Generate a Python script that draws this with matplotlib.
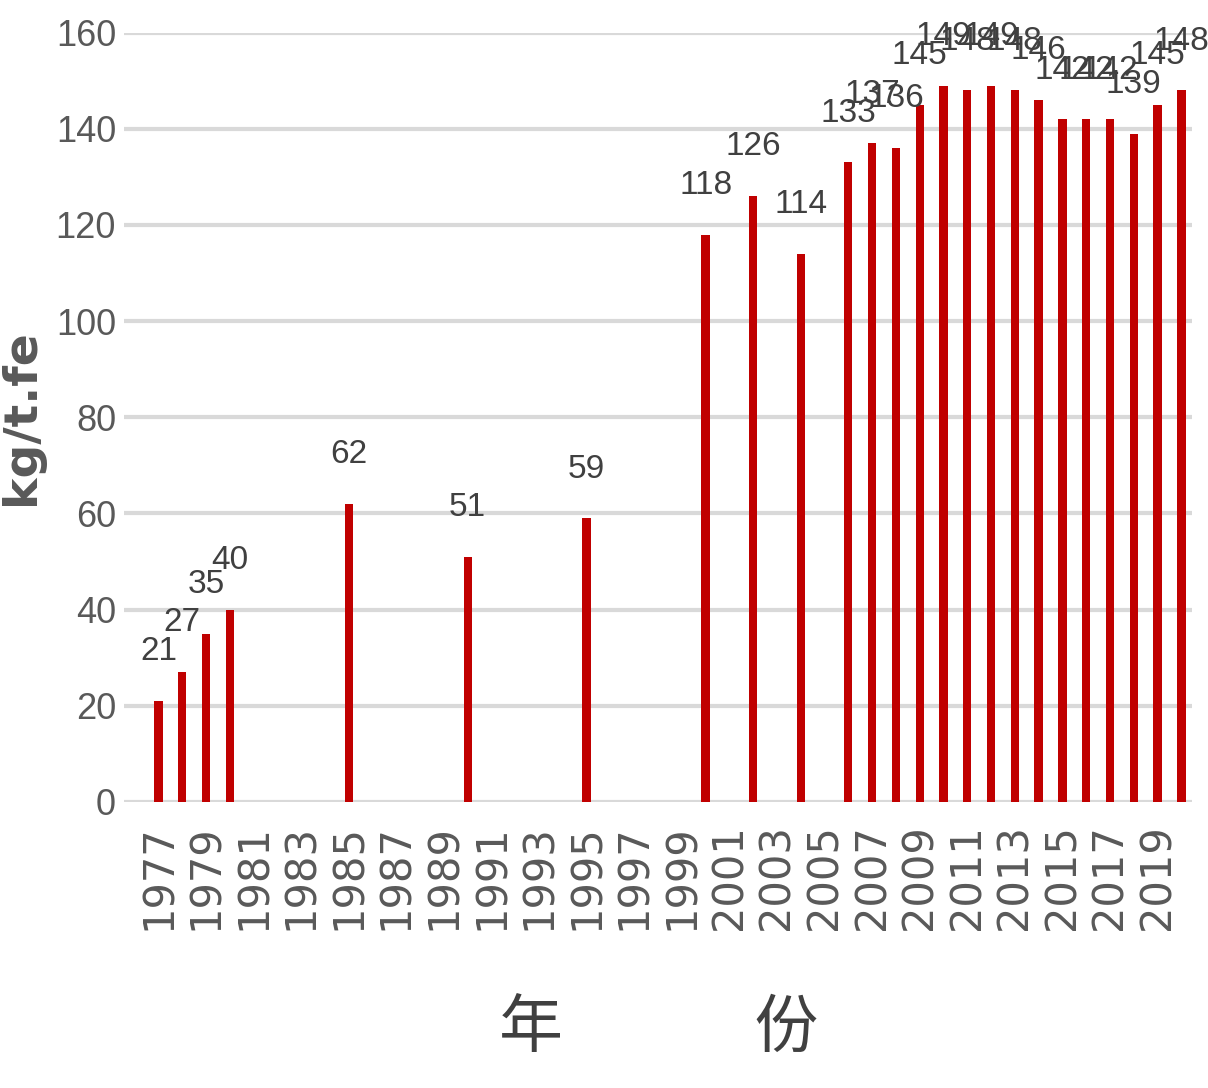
import matplotlib
matplotlib.use('Agg')
import matplotlib.pyplot as plt
import numpy as np

years = list(range(1977, 2021))
data_years = [1977, 1978, 1979, 1980, 1985, 1990, 1995, 2000, 2002, 2004,
              2006, 2007, 2008, 2009, 2010, 2011, 2012, 2013, 2014, 2015,
              2016, 2017, 2018, 2019, 2020]
values = [21, 27, 35, 40, 62, 51, 59, 118, 126, 114,
          133, 137, 136, 145, 149, 148, 149, 148, 146, 142,
          142, 142, 139, 145, 148]
yticks = [0, 20, 40, 60, 80, 100, 120, 140, 160]

plt.rcParams['font.family'] = ['Liberation Sans', 'DejaVu Sans']

fig = plt.figure(figsize=(12.08, 10.88), dpi=100)
ax = fig.add_axes([0.103, 0.263, 0.884, 0.707])

xpos = [years.index(y) for y in data_years]
ax.bar(xpos, values, width=0.35, color='#C00000', zorder=3)

for x, v in zip(xpos, values):
    ax.text(x, v + 7, str(v), ha='center', va='bottom', fontsize=24,
            color='#404040', zorder=4)

ax.set_xlim(-1.43, 43.46)
ax.set_ylim(0, 160)
ax.set_yticks(yticks)
ax.set_yticklabels([str(t) for t in yticks], fontsize=26, color='#595959')
ax.yaxis.grid(True, color='#D9D9D9', linewidth=3, zorder=0)
ax.set_axisbelow(True)

tick_idx = list(range(0, len(years), 2))
ax.set_xticks(tick_idx)
ax.set_xticklabels([str(years[i]) for i in tick_idx], rotation=90,
                   fontsize=30, color='#595959', family='DejaVu Sans')
ax.tick_params(axis='y', length=0, pad=6)
ax.tick_params(axis='x', length=0, pad=16)

for s in ax.spines.values():
    s.set_visible(False)

ax.set_ylabel('kg/t.fe', fontsize=34, fontweight='bold', color='#595959',
              family='DejaVu Sans')
ax.yaxis.set_label_coords(-0.075, 0.5)
ax.set_xlabel('年\u3000\u3000\u3000份', fontsize=46, color='#404040',
              family=['Noto Sans CJK SC', 'DejaVu Sans'], labelpad=48)

fig.savefig('out.png', dpi=100)
plt.close(fig)
